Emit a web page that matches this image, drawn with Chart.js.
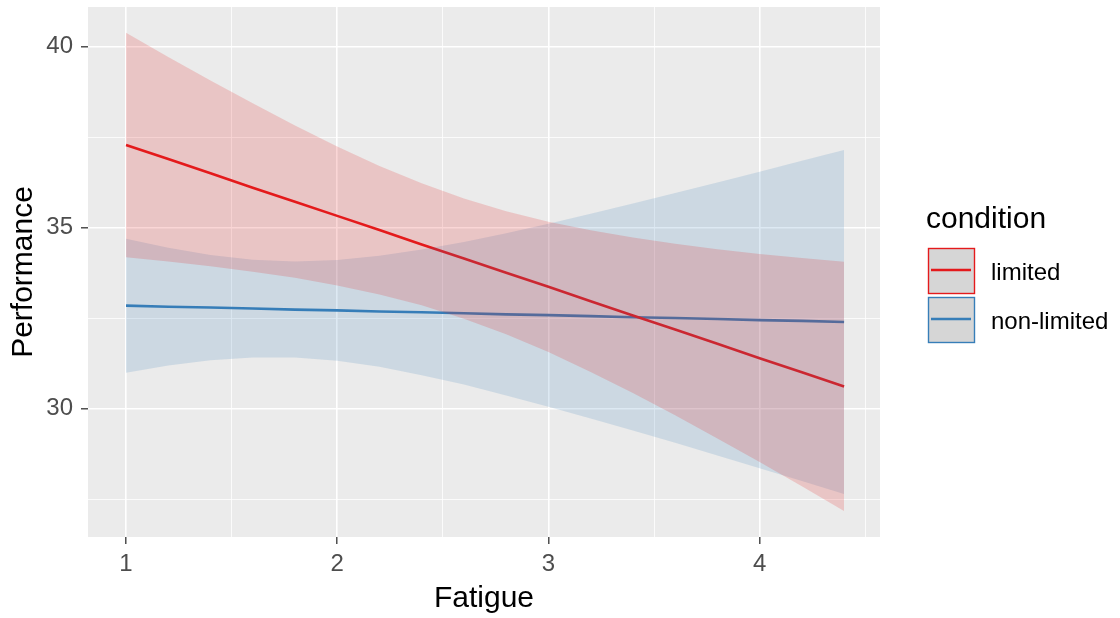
<!DOCTYPE html>
<html>
<head>
<meta charset="utf-8">
<script src="https://cdn.jsdelivr.net/npm/chart.js@4/dist/chart.umd.min.js"></script>
<style>
html,body{margin:0;padding:0;background:#fff;}
#wrap{width:1120px;height:618px;}
</style>
</head>
<body>
<div id="wrap"><canvas id="plot" width="1120" height="618"></canvas></div>
<script>
// Fitted performance by fatigue, with 95% bands, per condition.
const FATIGUE      = [1.0, 1.2, 1.4, 1.6, 1.8, 2.0, 2.2, 2.4, 2.6, 2.8, 3.0, 3.2, 3.4, 3.6, 3.8, 4.0, 4.2, 4.4];
const LIMITED_FIT  = [37.29, 36.90, 36.51, 36.11, 35.72, 35.33, 34.94, 34.54, 34.15, 33.76, 33.37, 32.97, 32.58, 32.19, 31.80, 31.40, 31.01, 30.62];
const LIMITED_HI   = [40.39, 39.72, 39.07, 38.44, 37.83, 37.25, 36.71, 36.23, 35.81, 35.46, 35.17, 34.93, 34.73, 34.56, 34.41, 34.28, 34.17, 34.06];
const LIMITED_LO   = [34.19, 34.07, 33.94, 33.79, 33.62, 33.41, 33.16, 32.86, 32.49, 32.06, 31.57, 31.02, 30.44, 29.82, 29.18, 28.53, 27.86, 27.18];
const NONLIM_FIT   = [32.85, 32.82, 32.80, 32.77, 32.74, 32.72, 32.69, 32.67, 32.64, 32.61, 32.59, 32.56, 32.53, 32.51, 32.48, 32.45, 32.43, 32.40];
const NONLIM_HI    = [34.70, 34.45, 34.25, 34.12, 34.07, 34.11, 34.23, 34.40, 34.61, 34.85, 35.11, 35.39, 35.67, 35.96, 36.25, 36.55, 36.85, 37.15];
const NONLIM_LO    = [31.00, 31.20, 31.34, 31.42, 31.42, 31.33, 31.16, 30.93, 30.67, 30.37, 30.06, 29.73, 29.40, 29.06, 28.71, 28.36, 28.01, 27.65];

const X_TICKS = [1, 1.5, 2, 2.5, 3, 3.5, 4, 4.5];
const Y_TICKS = [27.5, 30, 32.5, 35, 37.5, 40];
const CONDITIONS = ["limited", "non-limited"];
const COLORS = ["#E41A1C", "#377EB8"];
const BANDS = ["rgba(228,26,28,0.18)", "rgba(55,126,184,0.17)"];

const FONT = "'Liberation Sans', Arial, sans-serif";
const pts = (ys) => FATIGUE.map((x, i) => ({ x, y: ys[i] }));

const band = (ys, fill, bg) => ({ data: pts(ys), fill, backgroundColor: bg, borderWidth: 0, borderColor: "rgba(0,0,0,0)", pointRadius: 0 });
const line = (ys, col) => ({ data: pts(ys), fill: false, borderColor: col, borderWidth: 2.6, pointRadius: 0, tension: 0 });

// grey panel behind the grid
const panelBg = { id: "panelBg", beforeDraw(c) {
  const { ctx, chartArea: a } = c;
  ctx.save(); ctx.fillStyle = "#EBEBEB"; ctx.fillRect(a.left, a.top, a.right - a.left, a.bottom - a.top); ctx.restore();
} };

// ggplot-style legend on the right
const sideLegend = { id: "sideLegend", afterDraw(c) {
  const ctx = c.ctx; ctx.save();
  ctx.fillStyle = "#000"; ctx.font = `30px ${FONT}`; ctx.textBaseline = "alphabetic";
  ctx.fillText("condition", 926, 228);
  CONDITIONS.forEach((name, i) => {
    const top = 248 + i * 49;
    ctx.fillStyle = "#D6D6D6"; ctx.fillRect(928, top, 47, 46);
    ctx.strokeStyle = COLORS[i]; ctx.lineWidth = 1.4; ctx.strokeRect(928.5, top + 0.5, 46, 45);
    ctx.beginPath(); ctx.moveTo(931, top + 22); ctx.lineTo(971, top + 22); ctx.lineWidth = 2.6; ctx.stroke();
    ctx.fillStyle = "#000"; ctx.font = `24px ${FONT}`;
    ctx.fillText(name, 991, top + 32);
  });
  ctx.restore();
} };

const isMajorX = (v) => Number.isInteger(v);
const isMajorY = (v) => Math.abs(v % 5) < 1e-9;

new Chart(document.getElementById("plot"), {
  type: "line",
  data: { datasets: [
    band(LIMITED_HI, "+1", BANDS[0]), band(LIMITED_LO, false, BANDS[0]),
    band(NONLIM_HI, "+1", BANDS[1]), band(NONLIM_LO, false, BANDS[1]),
    line(LIMITED_FIT, COLORS[0]), line(NONLIM_FIT, COLORS[1])
  ] },
  options: {
    responsive: false, animation: false,
    layout: { padding: { left: 0, right: 240, top: 7, bottom: 0 } },
    plugins: { legend: { display: false }, tooltip: { enabled: false } },
    scales: {
      x: {
        type: "linear", min: 0.82, max: 4.57,
        afterBuildTicks: (ax) => { ax.ticks = X_TICKS.map((v) => ({ value: v })); },
        afterFit: (ax) => { ax.height = 81; ax.paddingLeft = 0; ax.paddingRight = 0; },
        border: { display: false },
        grid: { color: "#FFFFFF", lineWidth: (c) => (c.tick && isMajorX(c.tick.value) ? 1.6 : 0.8),
          tickLength: 7, tickWidth: 1.3, tickColor: (c) => (c.tick && isMajorX(c.tick.value) ? "#333333" : "rgba(0,0,0,0)") },
        ticks: { autoSkip: false, maxRotation: 0, padding: 6, color: "#4D4D4D", font: { family: FONT, size: 24 },
          callback: (v) => (isMajorX(v) ? String(v) : "") },
        title: { display: true, text: "Fatigue", color: "#000", font: { family: FONT, size: 30 }, padding: { top: 0, bottom: 1 } }
      },
      y: {
        type: "linear", min: 26.46, max: 41.10,
        afterBuildTicks: (ax) => { ax.ticks = Y_TICKS.map((v) => ({ value: v })); },
        afterFit: (ax) => { ax.width = 88; ax.paddingTop = 0; ax.paddingBottom = 0; },
        border: { display: false },
        grid: { color: "#FFFFFF", lineWidth: (c) => (c.tick && isMajorY(c.tick.value) ? 1.6 : 0.8),
          tickLength: 7, tickWidth: 1.3, tickColor: (c) => (c.tick && isMajorY(c.tick.value) ? "#333333" : "rgba(0,0,0,0)") },
        ticks: { padding: 8, color: "#4D4D4D", font: { family: FONT, size: 24 },
          callback: (v) => (isMajorY(v) ? String(v) : "") },
        title: { display: true, text: "Performance", color: "#000", font: { family: FONT, size: 30 }, padding: { top: 6, bottom: 0 } }
      }
    }
  },
  plugins: [panelBg, sideLegend]
});
</script>
</body>
</html>
